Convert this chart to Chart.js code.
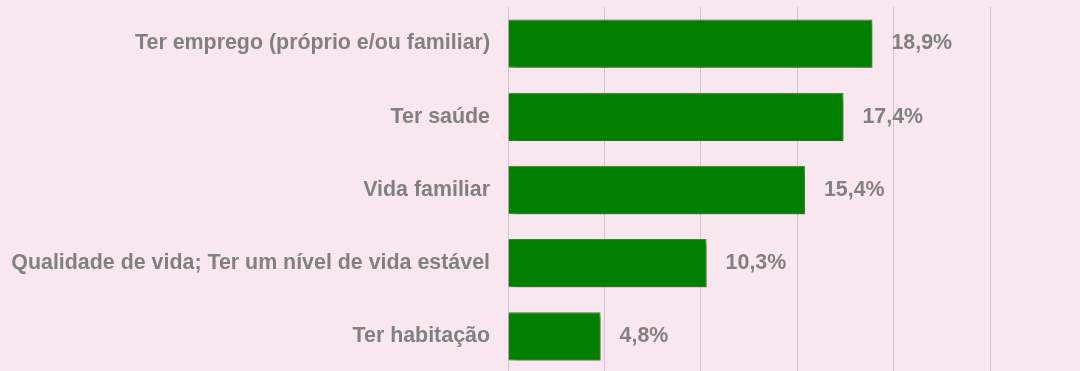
<!DOCTYPE html>
<html>
<head>
<meta charset="utf-8">
<script src="https://cdn.jsdelivr.net/npm/chart.js@4.4.1/dist/chart.umd.min.js"></script>
<style>
  html, body { margin: 0; padding: 0; background: #f9e7ef; overflow: hidden; }
  #wrap { position: relative; width: 1080px; height: 380px; }
</style>
</head>
<body>
<div id="wrap"><canvas id="motivosChart"></canvas></div>
<script>
// categories and percentages
var categorias = [
  "Ter emprego (próprio e/ou familiar)",
  "Ter saúde",
  "Vida familiar",
  "Qualidade de vida; Ter um nível de vida estável",
  "Ter habitação"
];
var percentagens = [18.9, 17.4, 15.4, 10.3, 4.8];
var rotulos = ["18,9%", "17,4%", "15,4%", "10,3%", "4,8%"];

var cinza = "#808080";
var fonte = { family: "Liberation Sans, Arial, sans-serif", size: 21.4, weight: "bold" };

// soft drop shadow under the bars
var sombraBarras = {
  id: "sombraBarras",
  beforeDatasetDraw: function (chart) {
    var ctx = chart.ctx;
    ctx.save();
    ctx.shadowColor = "rgba(70, 40, 55, 0.55)";
    ctx.shadowBlur = 6;
    ctx.shadowOffsetX = 4;
    ctx.shadowOffsetY = 4;
  },
  afterDatasetDraw: function (chart) {
    chart.ctx.restore();
  }
};

// value labels to the right of each bar
var valoresBarras = {
  id: "valoresBarras",
  afterDatasetsDraw: function (chart) {
    var ctx = chart.ctx;
    var meta = chart.getDatasetMeta(0);
    ctx.save();
    ctx.font = "bold " + fonte.size + "px " + fonte.family;
    ctx.fillStyle = cinza;
    ctx.textAlign = "left";
    ctx.textBaseline = "middle";
    meta.data.forEach(function (bar, i) {
      ctx.fillText(rotulos[i], bar.x + 19, bar.y);
    });
    ctx.restore();
  }
};

var ctx = document.getElementById("motivosChart").getContext("2d");
var motivosChart = new Chart(ctx, {
  type: "bar",
  data: {
    labels: categorias,
    datasets: [
      {
        data: percentagens,
        backgroundColor: "#007f00",
        borderColor: "#2e8f2e",
        borderWidth: 1,
        categoryPercentage: 1,
        barPercentage: 0.66
      }
    ]
  },
  options: {
    indexAxis: "y",
    responsive: true,
    maintainAspectRatio: false,
    animation: false,
    layout: { padding: { top: 7, bottom: 7, right: 90, left: 0 } },
    plugins: {
      legend: { display: false },
      tooltip: { enabled: false }
    },
    scales: {
      x: {
        min: 0,
        max: 25,
        ticks: { display: false, stepSize: 5 },
        grid: { color: "#cfc6ca", drawTicks: false },
        border: { display: false }
      },
      y: {
        afterFit: function (scale) {
          scale.width = 508;
          scale.paddingTop = 0;
          scale.paddingBottom = 0;
        },
        ticks: { color: cinza, font: fonte, padding: 18 },
        grid: { display: false, drawTicks: false },
        border: { display: true, color: "#cfc6ca" }
      }
    }
  },
  plugins: [sombraBarras, valoresBarras]
});
</script>
</body>
</html>
